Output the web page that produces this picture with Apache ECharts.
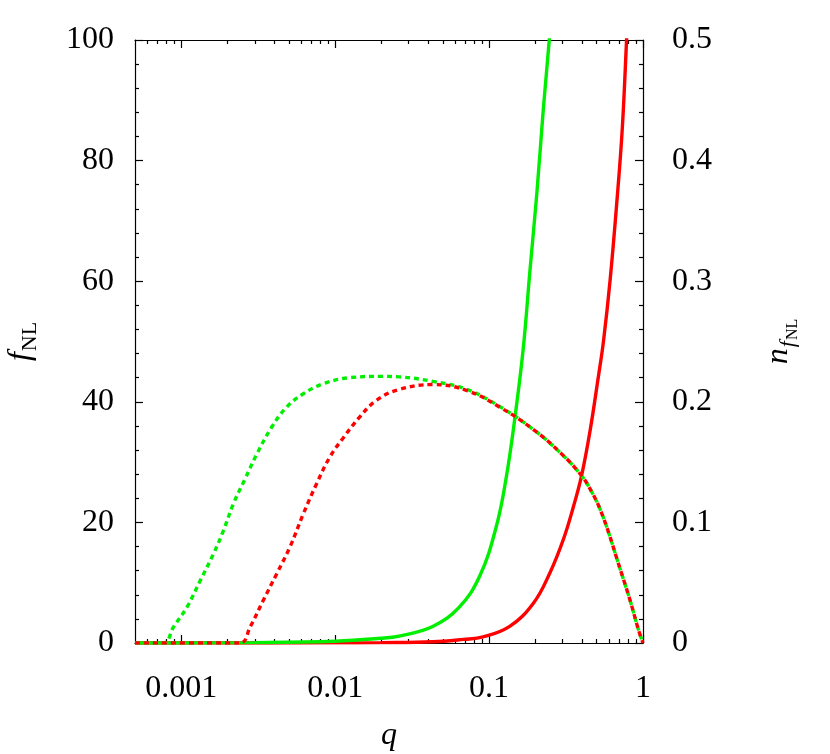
<!DOCTYPE html>
<html>
<head>
<meta charset="utf-8">
<script src="https://cdn.jsdelivr.net/npm/echarts@6.0.0/dist/echarts.min.js"></script>
<style>
  html, body { margin: 0; padding: 0; background: #fff; }
  #chart { width: 830px; height: 754px; }
</style>
</head>
<body>
<div id="chart"></div>
<script>
// x range (q, log scale)
const qMin = 0.0005
const qMax = 1
const xTickValues = [0.001, 0.01, 0.1, 1]
const xTickLabels = ['0.001', '0.01', '0.1', '1']
const xMinorTicks = [0.0006, 0.0007, 0.0008, 0.0009,
  0.002, 0.003, 0.004, 0.005, 0.006, 0.007, 0.008, 0.009,
  0.02, 0.03, 0.04, 0.05, 0.06, 0.07, 0.08, 0.09,
  0.2, 0.3, 0.4, 0.5, 0.6, 0.7, 0.8, 0.9]

// fNL (left axis), solid lines
const qGreenF = [0.0005, 0.001, 0.003, 0.01, 0.0196, 0.026, 0.043, 0.064, 0.0869, 0.1116, 0.1297, 0.147, 0.1666, 0.184, 0.204, 0.225, 0.246, 0.25]
const fGreen = [0, 0.01, 0.06, 0.3, 0.78, 1.15, 2.75, 5.95, 11.1, 19.4, 27.7, 37.3, 48.8, 61.6, 74.4, 88.5, 100, 103]
const qRedF = [0.0005, 0.01, 0.02, 0.043, 0.068, 0.0914, 0.136, 0.194, 0.249, 0.304, 0.353, 0.4, 0.453, 0.513, 0.554, 0.612, 0.676, 0.733, 0.781, 0.8]
const fRed = [0, 0.02, 0.06, 0.2, 0.6, 1.0, 2.75, 6.6, 11.7, 17.2, 22.6, 27.9, 35.2, 44.2, 50.1, 60.3, 73.1, 85.2, 99.7, 106]

// n_fNL (right axis), dotted lines
const qGreenN = [0.0005, 0.000768, 0.00089, 0.00109, 0.00133, 0.00162, 0.00188, 0.00218, 0.0026, 0.00309, 0.00387, 0.00484, 0.00621, 0.00836, 0.01245, 0.0205, 0.0261, 0.0431, 0.0712, 0.1175, 0.194, 0.289, 0.4, 0.47, 0.526, 0.6, 0.676, 0.75, 0.826, 0.91, 0.95, 1.0]
const nGreen = [0, 0, 0.0133, 0.0299, 0.052, 0.0741, 0.0934, 0.1155, 0.1363, 0.1565, 0.1791, 0.1957, 0.2067, 0.215, 0.22, 0.2211, 0.2207, 0.2169, 0.2105, 0.196, 0.177, 0.158, 0.1385, 0.124, 0.111, 0.091, 0.07, 0.052, 0.035, 0.016, 0.008, 0]
const qRedN = [0.0005, 0.00241, 0.0028, 0.00341, 0.00417, 0.00508, 0.00621, 0.00757, 0.00923, 0.01127, 0.01445, 0.01852, 0.0256, 0.0431, 0.0712, 0.1175, 0.194, 0.289, 0.4, 0.47, 0.526, 0.6, 0.676, 0.75, 0.826, 0.91, 0.95, 1.0]
const nRed = [0, 0, 0.0133, 0.0354, 0.0575, 0.0796, 0.1072, 0.1321, 0.1542, 0.17, 0.1875, 0.2012, 0.21, 0.2143, 0.2095, 0.1955, 0.177, 0.158, 0.1385, 0.124, 0.111, 0.091, 0.07, 0.052, 0.035, 0.016, 0.008, 0]

const GREEN = '#00ee00'
const RED = '#ff0000'
const FONT = 'Liberation Serif'

const lg = (v) => Math.log10(v)
const pairs = (xs, ys) => xs.map((x, i) => [lg(x), ys[i]])

const chart = echarts.init(document.getElementById('chart'))

const axisLine = { show: true, onZero: false, lineStyle: { color: '#000', width: 1.2 } }
const tickLine = { color: '#000', width: 1.2 }
const baseX = {
  type: 'value',
  min: lg(qMin),
  max: lg(qMax),
  splitLine: { show: false },
  axisLine: axisLine
}
const majorX = (pos, withLabel) => ({
  ...baseX,
  position: pos,
  axisTick: { show: true, inside: true, length: 8, customValues: xTickValues.map(lg), lineStyle: tickLine },
  axisLabel: withLabel
    ? {
        show: true,
        margin: 30,
        customValues: xTickValues.map(lg),
        formatter: (v) => xTickLabels[xTickValues.findIndex((t) => Math.abs(lg(t) - v) < 1e-6)],
        fontFamily: FONT,
        fontSize: 32,
        color: '#000'
      }
    : { show: false }
})
const minorX = (pos) => ({
  ...baseX,
  position: pos,
  axisLine: { show: false, onZero: false },
  axisTick: { show: true, inside: true, length: 4, customValues: xMinorTicks.map(lg), lineStyle: tickLine },
  axisLabel: { show: false }
})

const yCommon = {
  type: 'value',
  min: 0,
  splitLine: { show: false },
  axisLine: axisLine,
  axisTick: { show: true, inside: true, length: 8, lineStyle: tickLine },
  minorTick: { show: true, splitNumber: 5, length: 4, lineStyle: tickLine },
  nameLocation: 'middle',
  nameRotate: 90
}

const lineSeries = (qs, vs, yIdx, color, dashed) => ({
  type: 'line',
  xAxisIndex: 0,
  yAxisIndex: yIdx,
  data: pairs(qs, vs),
  showSymbol: false,
  smooth: 0.4,
  clip: true,
  lineStyle: { color: color, width: 3.4, type: dashed ? [5, 4] : 'solid' }
})

const option = {
  backgroundColor: '#fff',
  animation: false,
  grid: { left: 135, right: 187, top: 40, bottom: 111, containLabel: false, outerBoundsMode: 'none' },
  xAxis: [
    {
      ...majorX('bottom', true),
      name: 'q',
      nameLocation: 'middle',
      nameGap: 77,
      nameTextStyle: { fontFamily: FONT, fontSize: 32, fontStyle: 'italic', color: '#000' }
    },
    minorX('bottom'),
    majorX('top', false),
    minorX('top')
  ],
  yAxis: [
    {
      ...yCommon,
      position: 'left',
      max: 100,
      interval: 20,
      axisLabel: { margin: 21, fontFamily: FONT, fontSize: 32, color: '#000' },
      name: '{i|f}{s|NL}',
      nameGap: 98,
      nameTextStyle: {
        color: '#000',
        rich: {
          i: { fontFamily: FONT, fontSize: 32, fontStyle: 'italic', lineHeight: 32, verticalAlign: 'top', color: '#000' },
          s: { fontFamily: FONT, fontSize: 22, lineHeight: 22, verticalAlign: 'top', padding: [14, 0, 0, 1], color: '#000' }
        }
      }
    },
    {
      ...yCommon,
      position: 'right',
      max: 0.5,
      interval: 0.1,
      axisLabel: { margin: 29, fontFamily: FONT, fontSize: 32, color: '#000' },
      name: '{i|n}{f|f}{s|NL}',
      nameGap: 120,
      nameTextStyle: {
        color: '#000',
        rich: {
          i: { fontFamily: FONT, fontSize: 32, fontStyle: 'italic', lineHeight: 32, verticalAlign: 'top', color: '#000' },
          f: { fontFamily: FONT, fontSize: 22, fontStyle: 'italic', lineHeight: 22, verticalAlign: 'top', padding: [14, 1, 0, 1], color: '#000' },
          s: { fontFamily: FONT, fontSize: 16, lineHeight: 16, verticalAlign: 'top', padding: [22, 0, 0, 0], color: '#000' }
        }
      }
    }
  ],
  series: [
    lineSeries(qRedF, fRed, 0, RED, false),
    lineSeries(qGreenF, fGreen, 0, GREEN, false),
    lineSeries(qGreenN, nGreen, 1, GREEN, true),
    lineSeries(qRedN, nRed, 1, RED, true)
  ]
}

chart.setOption(option)
</script>
</body>
</html>
